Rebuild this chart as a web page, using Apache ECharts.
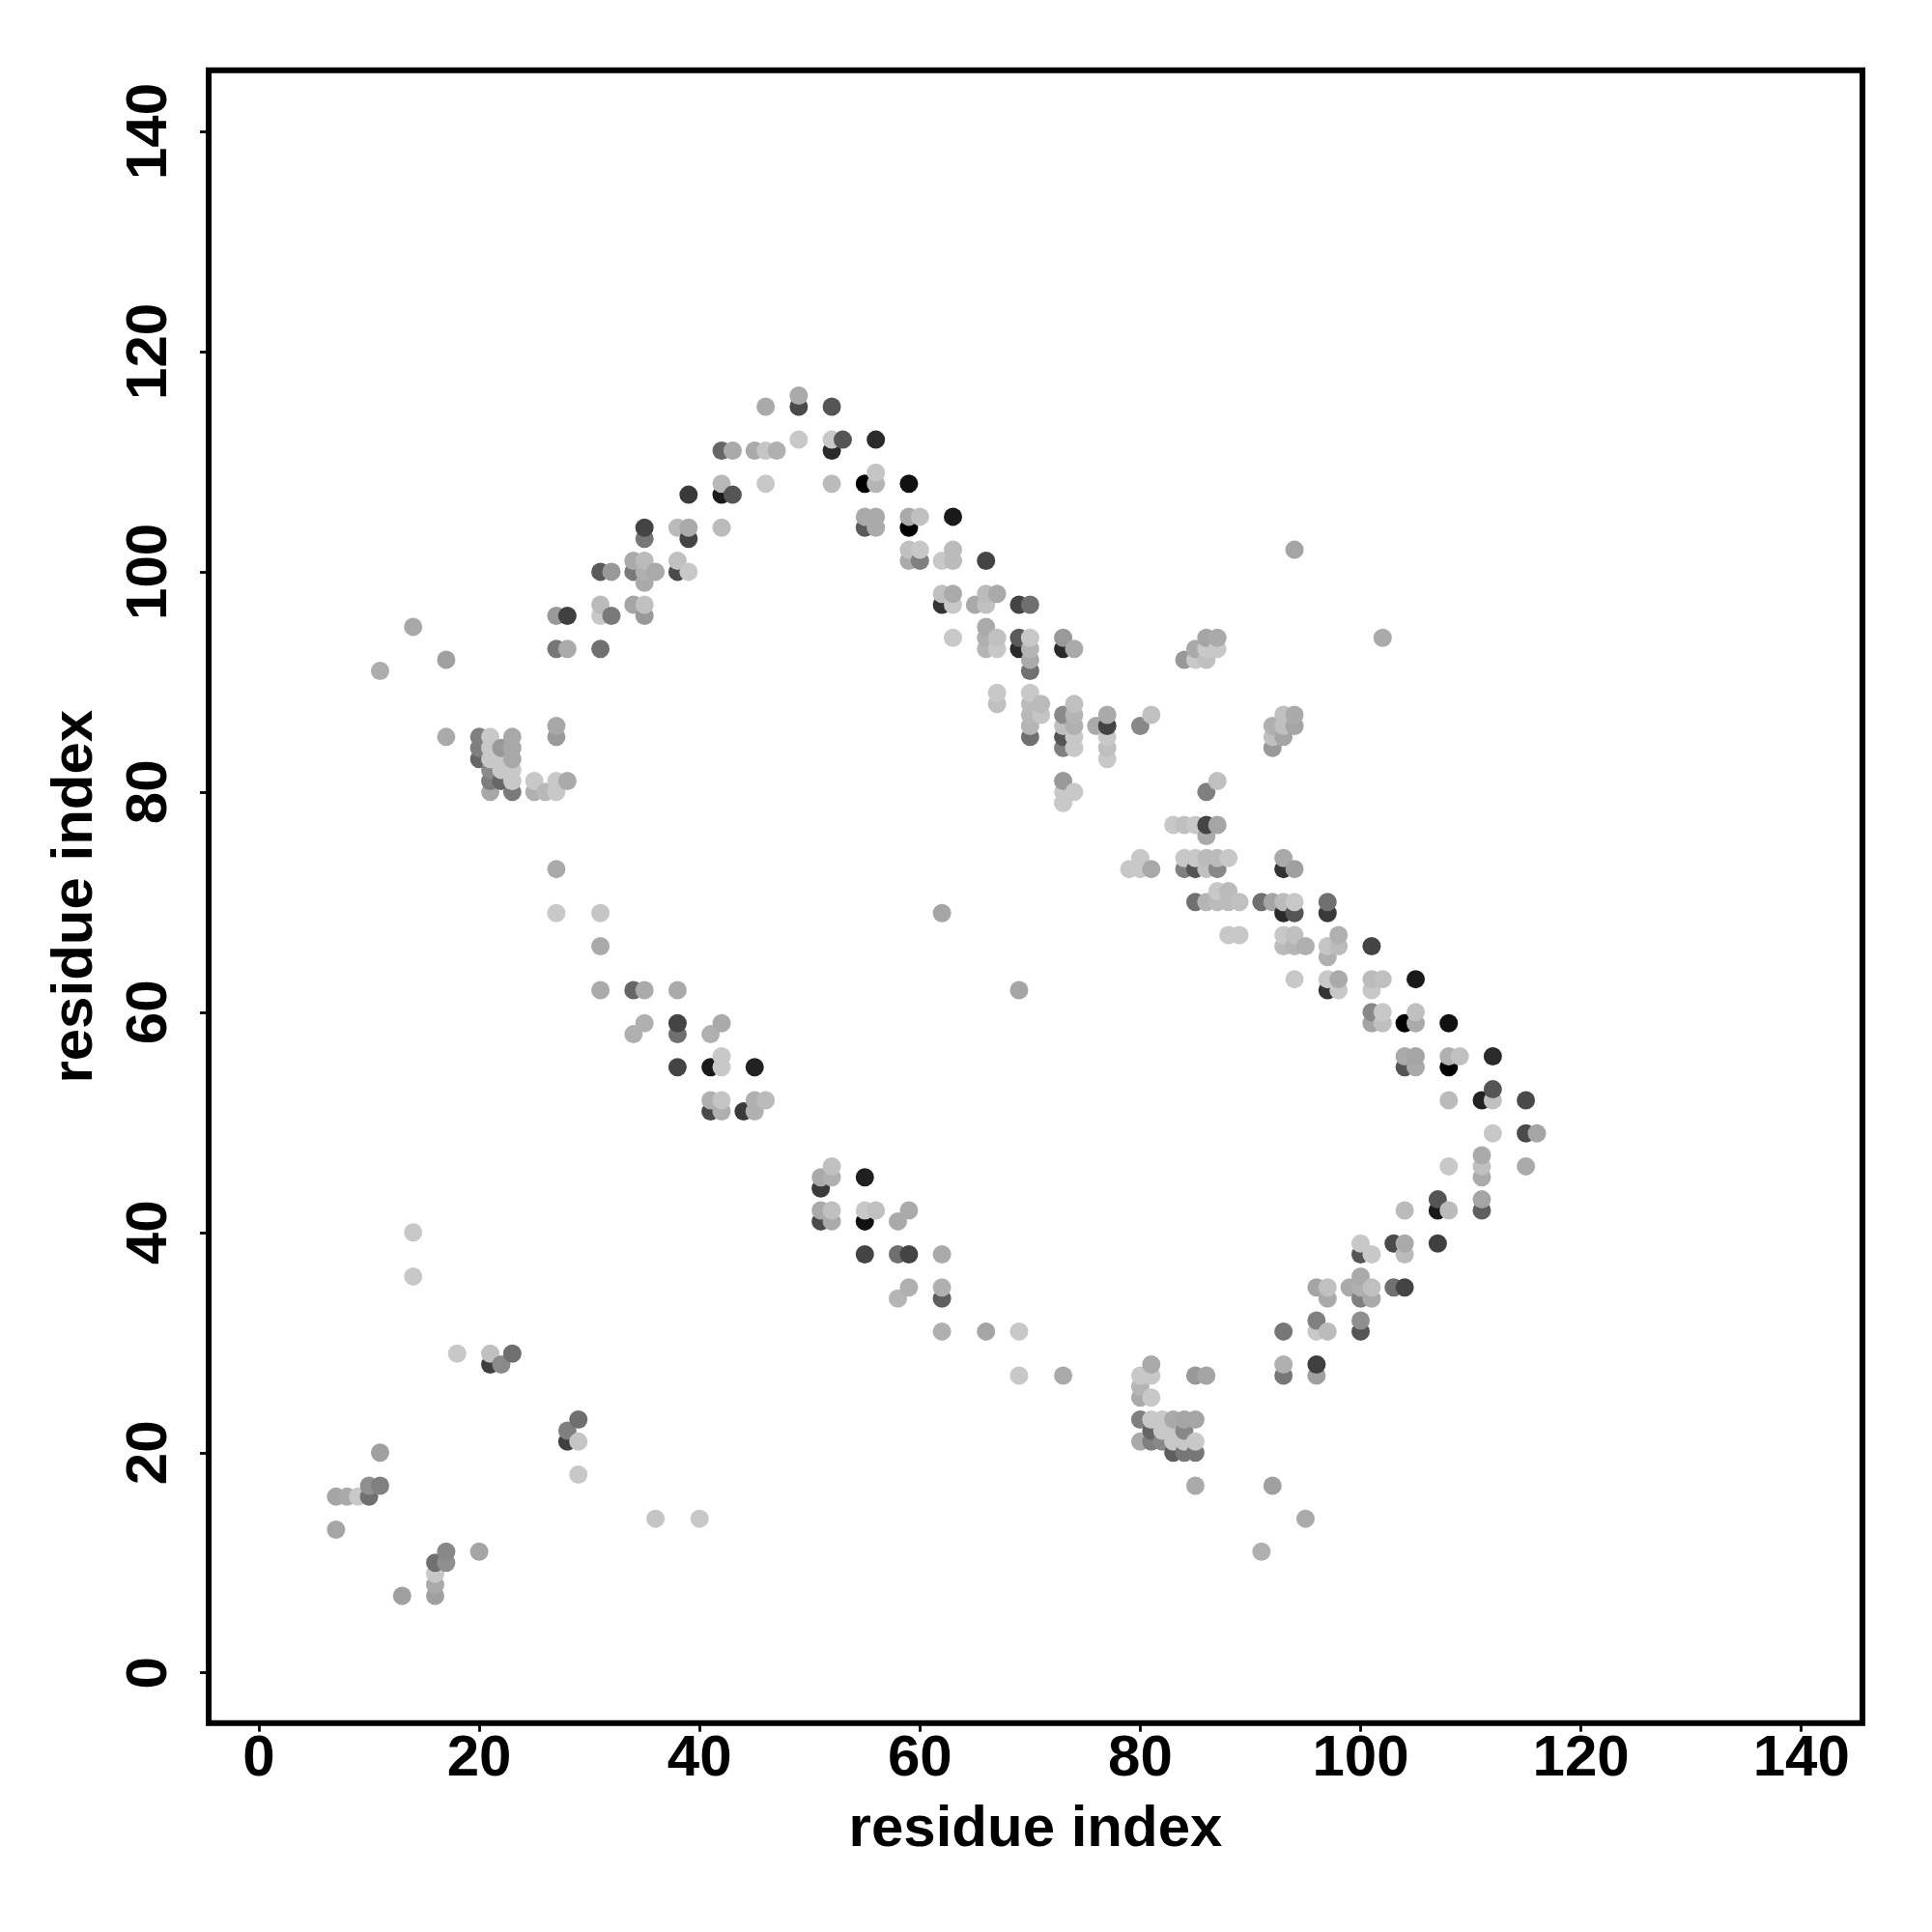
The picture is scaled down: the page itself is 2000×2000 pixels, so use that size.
<!DOCTYPE html>
<html>
<head>
<meta charset="utf-8">
<style>html,body{margin:0;padding:0;background:#fff}#c{width:2000px;height:2000px}</style>
<script src="https://cdn.jsdelivr.net/npm/echarts@6/dist/echarts.min.js"></script>
</head>
<body>
<div id="c"></div>
<script>
const tickValues = [0, 20, 40, 60, 80, 100, 120, 140];
const axisTitle = 'residue index';
const residueX = [
7,7, 8, 9, 10,10, 11,11,11, 13, 14,14,14, 16,16,16,16, 17,17,17,17, 18, 20,20,20,20,
21,21,21,21,21,21,21,21, 22,22,22,22,22, 23,23,23,23,23,23,23, 25,25, 26,
27,27,27,27,27,27,27,27, 28,28,28,28,28, 29,29,29, 31,31,31,31,31,31,31, 32,32,
34,34,34,34,34, 35,35,35,35,35,35,35,35,35, 36,36, 38,38,38,38,38,38,38, 39,39,39,39, 40,
41,41,41,41, 42,42,42,42,42,42,42,42,42, 43,43, 44, 45,45,45,45, 46,46,46,46, 47, 49,49,49,
51,51,51,51, 52,52,52,52,52,52,52,52, 53, 55,55,55,55,55,55,55, 56,56,56,56,56,56, 58,58,58,
59,59,59,59,59,59,59,59, 60,60,60, 62,62,62,62,62,62,62,62, 63,63,63,63,63,63, 65,
66,66,66,66,66,66,66, 67,67,67,67,67, 69,69,69,69,69,69, 70,70,70,70,70,70,70,70,70,70, 71,71,
73,73,73,73,73,73,73,73,73,73, 74,74,74,74,74,74,74, 76, 77,77,77,77,77, 79,
80,80,80,80,80,80,80,80, 81,81,81,81,81,81,81,81, 82,82,82, 83,83,83,83,83,
84,84,84,84,84,84,84,84, 85,85,85,85,85,85,85,85,85,85,85, 86,86,86,86,86,86,86,86,86,86,
87,87,87,87,87,87,87,87, 88,88,88,88, 89,89, 91,91, 92,92,92,92,92,
93,93,93,93,93,93,93,93,93,93,93,93, 94,94,94,94,94,94,94,94,94, 95,95,
96,96,96,96,96, 97,97,97,97,97,97,97,97,97, 98,98,98,98, 99, 100,100,100,100,100,100,100,
101,101,101,101,101,101,101,101, 102,102,102,102, 103,103, 104,104,104,104,104,104,104,
105,105,105,105,105, 107,107,107, 108,108,108,108,108,108, 109, 111,111,111,111,111,111,
112,112,112,112, 115,115,115, 116
];
const residueY = [
13,16, 16, 16, 16,17, 17,20,91, 7, 36,40,95, 7,8,9,10, 10,11,85,92, 29, 11,83,84,85,
28,29,80,81,82,83,84,85, 28,81,82,83,84, 29,80,81,82,83,84,85, 80,81, 80,
69,73,80,81,85,86,93,96, 21,22,81,93,96, 18,21,23, 62,66,69,93,96,97,100, 96,100,
58,62,97,100,101, 59,62,96,97,99,100,101,103,104, 14,100, 55,58,59,62,100,101,104, 100,103,104,107, 14,
51,52,55,58, 51,52,55,56,59,104,107,108,111, 107,111, 51, 51,52,55,111, 52,108,111,115, 111, 112,115,116,
41,42,44,45, 41,42,45,46,108,111,112,115, 112, 38,41,42,45,104,105,108, 42,104,105,108,109,112, 34,38,41,
35,38,42,101,102,104,105,108, 101,102,105, 31,34,35,38,69,97,98,101, 94,97,98,101,102,105, 97,
31,93,94,95,97,98,101, 88,89,93,94,98, 27,31,62,93,94,97, 85,86,87,88,89,91,92,93,94,97, 87,88,
27,79,80,81,84,85,86,87,93,94, 80,84,85,86,87,88,93, 86, 83,84,85,86,87, 73,
21,23,25,26,27,73,74,86, 21,22,23,25,27,28,73,87, 21,22,23, 20,21,22,23,77,
20,21,22,23,73,74,77,92, 17,20,21,23,27,70,73,74,77,92,93, 27,70,73,74,76,77,80,92,93,94,
70,71,73,74,77,81,93,94, 67,70,71,74, 67,70, 11,70, 17,70,84,85,86,
27,28,31,66,67,69,70,73,74,85,86,87, 63,66,67,69,70,73,86,87,102, 14,66,
27,28,31,32,35, 31,34,35,62,63,65,66,69,70, 62,63,66,67, 35, 31,32,34,35,36,38,39,
34,35,38,59,60,62,63,66, 59,60,63,94, 35,39, 35,38,39,42,55,56,59,
55,56,59,60,63, 39,42,43, 42,46,52,55,56,59, 56, 42,43,45,46,47,52,
49,52,53,56, 46,49,52, 49
];
const shade = [
'a5','a5', 'aa', 'c8', '70','8f', '80','a0','ad', 'a0', 'c8','c8','a8', 'a0','aa','c8','70', '8f','88','aa','a0', 'c8', 'a5','66','7f','80',
'3f','c0','a8','7d','8a','c8','c8','c8', '8a','66','c8','c8','99', '6f','7a','c8','c8','a8','a8','a8', 'b0','c8', 'b8',
'c8','aa','c8','c8','9a','a8','77','99', '3f','80','aa','aa','40', 'c8','c5','6f', 'aa','aa','c5','70','c8','bb','5a', '7a','99',
'b0','66','a5','7a','aa', 'b0','aa','99','c0','aa','b0','bb','77','44', 'c5','aa', '44','6f','44','aa','4a','c0','bb', 'c8','44','aa','3a', 'c8',
'4a','b0','1a','b0', 'b0','c5','c8','c8','aa','bb','1a','b8','66', '55','aa', '3a', 'b0','b0','22','aa', 'bb','c8','c5','aa', 'b0', 'c8','4a','aa',
'4a','aa','3a','aa', 'aa','c0','b0','c0','bb','2a','c8','55', '55', '44','11','c8','1f','5a','aa','00', 'c0','aa','aa','b5','c5','2a', 'b5','6f','aa',
'b0','44','aa','aa','c0','00','aa','11', '80','c8','c0', 'b0','5f','b0','aa','a5','33','c0','c8', 'c8','c8','aa','bb','bb','1a', 'aa',
'a5','b5','b0','aa','c0','bb','44', 'c0','c8','c8','c0','aa', 'c8','c8','a5','2a','5a','44', '70','b5','b8','bb','c8','70','aa','b5','c8','6f', 'c5','bb',
'aa','c8','c8','99','80','55','c0','8a','2a','99', 'c8','c8','c8','b0','b5','c0','aa', 'aa', 'c8','c0','c8','44','aa', 'c8',
'aa','80','aa','b5','c8','c8','c8','88', '80','66','c8','c8','c8','aa','a8','c0', '88','c8','c8', '5f','c8','c8','aa','c8',
'77','c8','88','a5','80','c8','c0','99', 'aa','77','c8','a5','99','70','55','c8','c8','c8','aa', 'a5','b5','c0','bb','aa','44','80','c0','c8','a5',
'bb','c8','88','bb','a5','c0','c8','aa', 'c8','bb','bb','c8', 'c8','c0', 'b0','70', 'a0','a5','99','c0','b0',
'77','b0','77','bb','c8','2a','bb','33','aa','a5','c0','c0', 'c8','b5','c0','55','c8','a0','a5','aa','a5', 'aa','b0',
'a0','3f','c8','80','a5', 'bb','aa','c0','33','c8','b0','c5','3a','70', 'c8','aa','bb','b0', 'aa', '55','8f','80','b0','aa','55','c8',
'aa','c0','c8','a5','88','c8','bb','44', 'c0','c8','c0','aa', '70','4a', '44','bb','aa','bb','55','aa','00',
'aa','a5','aa','c0','1a', '3f','1a','55', 'bb','c8','bb','00','b0','11', 'c0', '5f','a5','aa','c0','aa','22',
'c8','c0','55','2a', 'aa','4a','4a', 'a5'
];

const contacts = residueX.map((x, i) => ({
  value: [x, residueY[i]],
  itemStyle: { color: '#' + shade[i] + shade[i] + shade[i], opacity: 1 }
}));

const fontFamily = '"Liberation Sans", Arial, sans-serif';
function axis(extra) {
  return Object.assign({
    type: 'value',
    min: -4.56,
    max: 145.55,
    name: axisTitle,
    nameLocation: 'middle',
    nameTextStyle: { fontFamily, fontWeight: 'bold', fontSize: 60, color: '#000' },
    splitLine: { show: false },
    axisLine: { show: false, onZero: false },
    axisTick: { show: true, length: 9, lineStyle: { color: '#000', width: 2.8 }, customValues: tickValues },
  }, extra);
}
const chart = echarts.init(document.getElementById('c'), null, { renderer: 'canvas' });
chart.setOption({
  animation: false,
  backgroundColor: '#fff',
  grid: { left: 216, top: 72.7, width: 1712, height: 1711, show: true, borderColor: '#000', borderWidth: 6, backgroundColor: 'transparent' },
  xAxis: axis({
    nameGap: 81,
    axisLabel: { margin: 8, fontFamily, fontWeight: 'bold', fontSize: 60, color: '#000', customValues: tickValues, showMinLabel: true, showMaxLabel: true, hideOverlap: false }
  }),
  yAxis: axis({
    nameGap: 108,
    nameRotate: 90,
    axisLabel: { rotate: 90, margin: 31, fontFamily, fontWeight: 'bold', fontSize: 60, color: '#000', customValues: tickValues, hideOverlap: false }
  }),
  series: [{
    type: 'scatter',
    symbol: 'circle',
    symbolSize: 19,
    silent: true,
    data: contacts
  }]
});
</script>
</body>
</html>
